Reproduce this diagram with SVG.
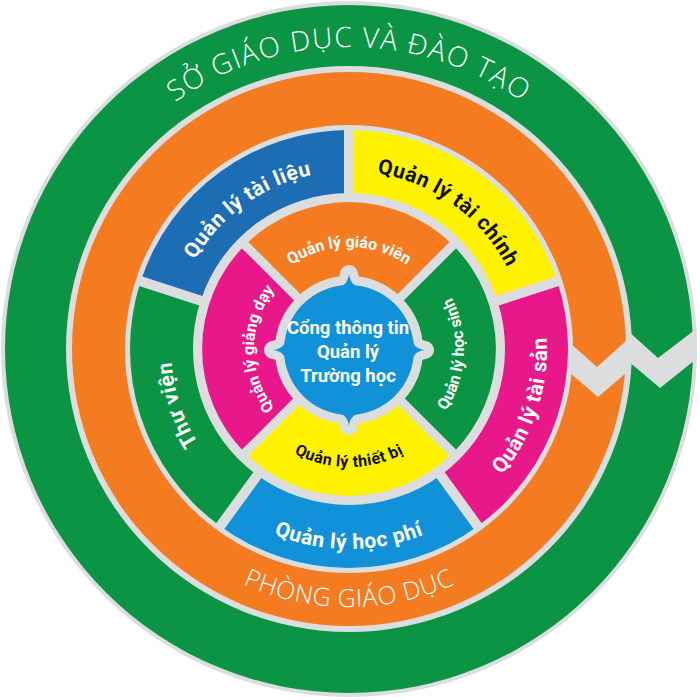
<svg xmlns="http://www.w3.org/2000/svg" width="700" height="700" viewBox="0 0 700 700">
<style>
.gapfill{fill:#dcdddf}
.sep{stroke:#dcdddf;fill:none}
.lbl{font-family:Roboto,"Liberation Sans",Arial,sans-serif;font-weight:bold}
.title{font-family:"Open Sans","Liberation Sans",Arial,sans-serif;font-weight:300;fill:#ffffff}
.w{fill:#ffffff}
.k{fill:#111111}
</style>
<defs>
<clipPath id="disk"><circle cx="349" cy="349" r="348"/></clipPath>
<path id="p-so" d="M135.5,135.5 A302,302 0 0 1 562.5,135.5"/>
<path id="p-phong" d="M201,560.4 A258,258 0 0 0 497,560.4"/>
<path id="p-tailieu" d="M176.3,305.9 A178,178 0 0 1 361.4,171.4"/>
<path id="p-taichinh" d="M336.6,171.4 A178,178 0 0 1 521.7,305.9"/>
<path id="p-taisan" d="M453.9,516.9 A198,198 0 0 0 532.6,274.8"/>
<path id="p-hocphi" d="M220.4,502.2 A200,200 0 0 0 477.6,502.2"/>
<path id="p-thuvien" d="M254.7,499.9 A178,178 0 0 1 184,282.3"/>
<path id="p-giaovien" d="M280.8,273.2 A102,102 0 0 1 417.2,273.2"/>
<path id="p-hocsinh" d="M430.3,430.3 A115,115 0 0 0 438.4,276.6"/>
<path id="p-thietbi" d="M270,436.7 A118,118 0 0 0 428,436.7"/>
<path id="p-giangday" d="M283,417.3 A95,95 0 0 1 283,280.7"/>
<path id="spike" d="M-16,-61 C-6,-63 -1,-67 0,-76 C1,-67 6,-63 16,-61 Z"/>
</defs>
<rect width="700" height="700" fill="#ffffff"/>
<circle cx="349" cy="349" r="348" class="gapfill"/>

<g id="so-giao-duc">
<path fill="#0b9444" fill-rule="evenodd" d="M5,349 A344,344 0 1 0 693,349 A344,344 0 1 0 5,349 Z M66,349 A283,283 0 1 0 632,349 A283,283 0 1 0 66,349 Z"/>
<text class="title" font-size="28" letter-spacing="1.4"><textPath href="#p-so" startOffset="50%" text-anchor="middle">SỞ GIÁO DỤC VÀ ĐÀO TẠO</textPath></text>
</g>

<g id="phong-giao-duc">
<path fill="#f47b20" fill-rule="evenodd" d="M72,349 A277,277 0 1 0 626,349 A277,277 0 1 0 72,349 Z M125,349 A224,224 0 1 0 573,349 A224,224 0 1 0 125,349 Z"/>
<text class="title" font-size="25" letter-spacing="0.6"><textPath href="#p-phong" startOffset="50%" text-anchor="middle">PHÒNG GIÁO DỤC</textPath></text>
</g>

<g id="zigzag" clip-path="url(#disk)" class="gapfill">
<polygon points="628,331 658,358 705,322 705,352 660,388 628,361"/>
<polygon points="570,343 597,367 626,341 626,373 598,397 570,373"/>
</g>

<g id="quan-ly-tai-lieu">
<path fill="#1d6db5" d="M140.7,281.3 A219,219 0 0 1 349,130 L349,193 A156,156 0 0 0 200.6,300.8 Z"/>
<text class="lbl w" font-size="21" letter-spacing="0.6"><textPath href="#p-tailieu" startOffset="50%" text-anchor="middle">Quản lý tài liệu</textPath></text>
</g>
<g id="quan-ly-tai-chinh">
<path fill="#fff200" d="M349,130 A219,219 0 0 1 557.3,281.3 L497.4,300.8 A156,156 0 0 0 349,193 Z"/>
<text class="lbl k" font-size="21" letter-spacing="0.6"><textPath href="#p-taichinh" startOffset="50%" text-anchor="middle">Quản lý tài chính</textPath></text>
</g>
<g id="quan-ly-tai-san">
<path fill="#e8188a" d="M557.3,281.3 A219,219 0 0 1 477.7,526.2 L440.7,475.2 A156,156 0 0 0 497.4,300.8 Z"/>
<text class="lbl w" font-size="21" letter-spacing="0.6"><textPath href="#p-taisan" startOffset="50%" text-anchor="middle">Quản lý tài sản</textPath></text>
</g>
<g id="quan-ly-hoc-phi">
<path fill="#1192d8" d="M477.7,526.2 A219,219 0 0 1 220.3,526.2 L257.3,475.2 A156,156 0 0 0 440.7,475.2 Z"/>
<text class="lbl w" font-size="21" letter-spacing="0.6"><textPath href="#p-hocphi" startOffset="50%" text-anchor="middle">Quản lý học phí</textPath></text>
</g>
<g id="thu-vien">
<path fill="#0b9444" d="M220.3,526.2 A219,219 0 0 1 140.7,281.3 L200.6,300.8 A156,156 0 0 0 257.3,475.2 Z"/>
<text class="lbl w" font-size="21" letter-spacing="0.6"><textPath href="#p-thuvien" startOffset="50%" text-anchor="middle">Thư viện</textPath></text>
</g>

<g id="quan-ly-giao-vien">
<path fill="#f47b20" d="M245.1,245.1 A147,147 0 0 1 452.9,245.1 L391.4,306.6 A60,60 0 0 0 306.6,306.6 Z"/>
<text class="lbl w" font-size="16"><textPath href="#p-giaovien" startOffset="50%" text-anchor="middle">Quản lý giáo viên</textPath></text>
</g>
<g id="quan-ly-hoc-sinh">
<path fill="#0b9444" d="M452.9,245.1 A147,147 0 0 1 452.9,452.9 L391.4,391.4 A60,60 0 0 0 391.4,306.6 Z"/>
<text class="lbl w" font-size="16"><textPath href="#p-hocsinh" startOffset="50%" text-anchor="middle">Quản lý học sinh</textPath></text>
</g>
<g id="quan-ly-thiet-bi">
<path fill="#fff200" d="M452.9,452.9 A147,147 0 0 1 245.1,452.9 L306.6,391.4 A60,60 0 0 0 391.4,391.4 Z"/>
<text class="lbl k" font-size="16" letter-spacing="0.4"><textPath href="#p-thietbi" startOffset="50%" text-anchor="middle">Quản lý thiết bị</textPath></text>
</g>
<g id="quan-ly-giang-day">
<path fill="#e8188a" d="M245.1,452.9 A147,147 0 0 1 245.1,245.1 L306.6,306.6 A60,60 0 0 0 306.6,391.4 Z"/>
<text class="lbl w" font-size="16"><textPath href="#p-giangday" startOffset="50%" text-anchor="middle">Quản lý giảng dạy</textPath></text>
</g>

<g id="separators" class="sep">
<g stroke-width="10">
<line x1="349" y1="199" x2="349" y2="126"/>
<line x1="206.3" y1="302.6" x2="136.9" y2="280.1"/>
<line x1="491.7" y1="302.6" x2="561.1" y2="280.1"/>
<line x1="437.2" y1="470.4" x2="480.1" y2="529.4"/>
<line x1="260.8" y1="470.4" x2="217.9" y2="529.4"/>
</g>
<g stroke-width="9">
<line x1="306.6" y1="306.6" x2="242.2" y2="242.2"/>
<line x1="391.4" y1="306.6" x2="455.8" y2="242.2"/>
<line x1="391.4" y1="391.4" x2="455.8" y2="455.8"/>
<line x1="306.6" y1="391.4" x2="242.2" y2="455.8"/>
</g>
</g>

<g id="cong-thong-tin">
<g transform="translate(349,350)">
<g fill="#dcdddf" stroke="#dcdddf" stroke-width="18" stroke-linejoin="round">
<circle r="65"/>
<use href="#spike"/><use href="#spike" transform="rotate(90)"/><use href="#spike" transform="rotate(180)"/><use href="#spike" transform="rotate(270)"/>
</g>
<g fill="#1192d8">
<circle r="65"/>
<use href="#spike"/><use href="#spike" transform="rotate(90)"/><use href="#spike" transform="rotate(180)"/><use href="#spike" transform="rotate(270)"/>
</g>
</g>
<g class="lbl w" font-size="18.5" text-anchor="middle">
<text x="348" y="334">Cổng thông tin</text>
<text x="348" y="358">Quản lý</text>
<text x="348" y="382">Trường học</text>
</g>
</g>
</svg>
